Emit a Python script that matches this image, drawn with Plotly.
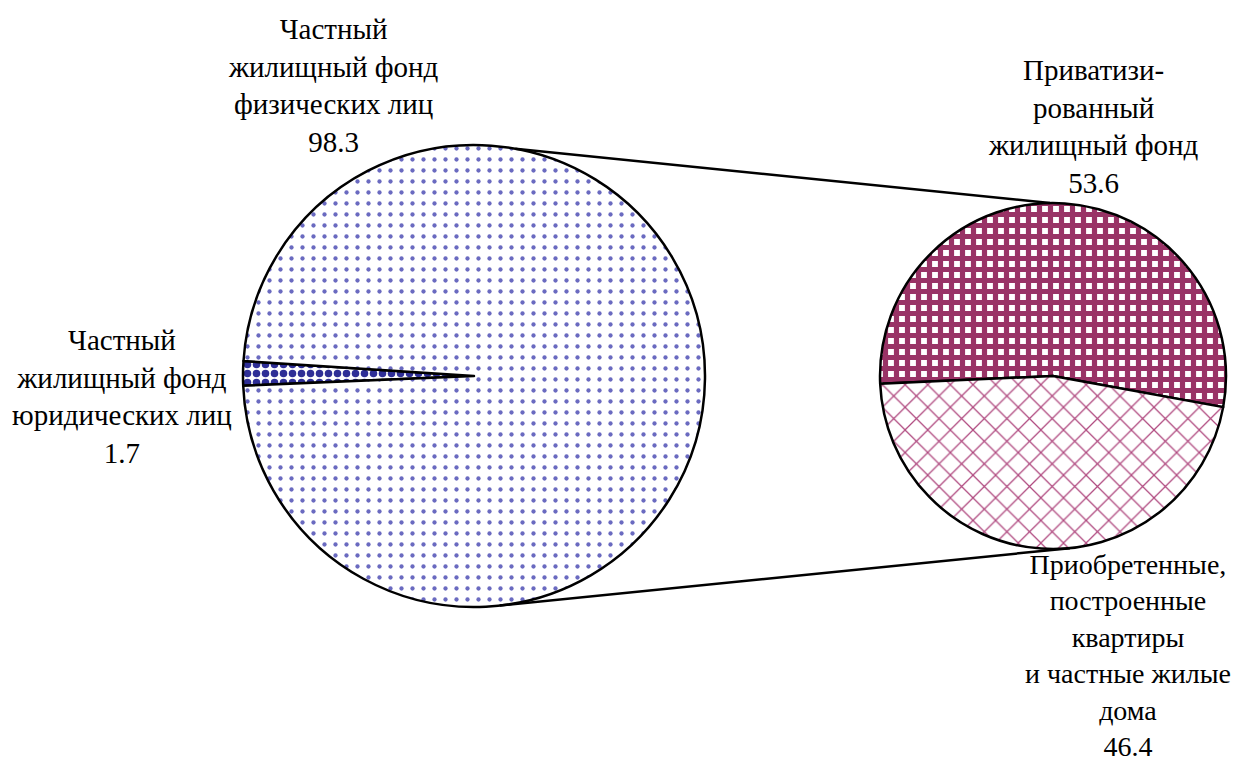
## import packages
import math
import plotly.graph_objects as go


## data
main_labels = ['Частный<br>жилищный фонд<br>юридических лиц', 'Частный<br>жилищный фонд<br>физических лиц']
main_values = [1.7, 98.3]

sub_labels = ['Приватизи-<br>рованный<br>жилищный фонд',
              'Приобретенные,<br>построенные<br>квартиры<br>и частные жилые<br>дома']
sub_values = [53.6, 46.4]


## layout geometry (pixels)
W, H = 1237, 767
main_cx, main_cy, main_r = 474, 376, 231
sub_cx, sub_cy, sub_r = 1053, 376, 173
font_family = 'Liberation Serif, Times New Roman, serif'


def domain(cx, cy, r):
    return dict(x=[(cx - r) / W, (cx + r) / W], y=[1 - (cy + r) / H, 1 - (cy - r) / H])


def point(cx, cy, r, angle):
    # angle clockwise from 12 o'clock, returns paper coords
    a = math.radians(angle)
    return (cx + r * math.sin(a)) / W, 1 - (cy - r * math.cos(a)) / H


fig = go.Figure()

fig.add_trace(go.Pie(
    labels=main_labels,
    values=main_values,
    sort=False,
    direction='clockwise',
    rotation=267.6,
    textinfo='none',
    domain=domain(main_cx, main_cy, main_r),
    marker=dict(
        colors=['white', 'white'],
        line=dict(color='black', width=2.5),
        pattern=dict(
            shape=['.', '.'],
            fgcolor=['#2e2e96', '#6a6ac0'],
            bgcolor=['white', 'white'],
            size=[9, 11],
            solidity=[0.55, 0.12],
        ),
    ),
    showlegend=False,
))

fig.add_trace(go.Pie(
    labels=sub_labels,
    values=sub_values,
    sort=False,
    direction='clockwise',
    rotation=-92.6,
    textinfo='none',
    domain=domain(sub_cx, sub_cy, sub_r),
    marker=dict(
        colors=['white', 'white'],
        line=dict(color='black', width=2.5),
        pattern=dict(
            shape=['+', 'x'],
            fgcolor=['#993366', '#b04a80'],
            bgcolor=['white', 'white'],
            size=[11, 16],
            solidity=[0.72, 0.15],
        ),
    ),
    showlegend=False,
))

# connector lines between the pies
x0, y0 = point(main_cx, main_cy, main_r, 10.3)
x1, y1 = point(sub_cx, sub_cy, sub_r, -1)
fig.add_shape(type='line', xref='paper', yref='paper', x0=x0, y0=y0, x1=x1, y1=y1,
              line=dict(color='black', width=2.5))
x0, y0 = point(main_cx, main_cy, main_r, 173.6)
x1, y1 = point(sub_cx, sub_cy, sub_r, 174.4)
fig.add_shape(type='line', xref='paper', yref='paper', x0=x0, y0=y0, x1=x1, y1=y1,
              line=dict(color='black', width=2.5))

# labels: text, x, y (pixels), font size
annots = [
    (main_labels[1] + '<br>' + f'{main_values[1]:.1f}', 333, 86, 29),
    (main_labels[0] + '<br>' + f'{main_values[0]:.1f}', 122, 396, 29),
    (sub_labels[0] + '<br>' + f'{sub_values[0]:.1f}', 1093, 127, 29),
    (sub_labels[1] + '<br>' + f'{sub_values[1]:.1f}', 1128, 655, 28),
]
for text, ax, ay, fs in annots:
    fig.add_annotation(text=text, x=ax / W, y=1 - ay / H, xref='paper', yref='paper',
                       showarrow=False, font=dict(family=font_family, size=fs, color='black'),
                       align='center', xanchor='center', yanchor='middle')

fig.update_layout(
    width=W,
    height=H,
    margin=dict(l=0, r=0, t=0, b=0),
    paper_bgcolor='white',
    plot_bgcolor='white',
)

fig.write_html("out.html", config={'displayModeBar': False},
               post_script="document.body.style.margin='0';document.body.style.overflow='hidden';")
